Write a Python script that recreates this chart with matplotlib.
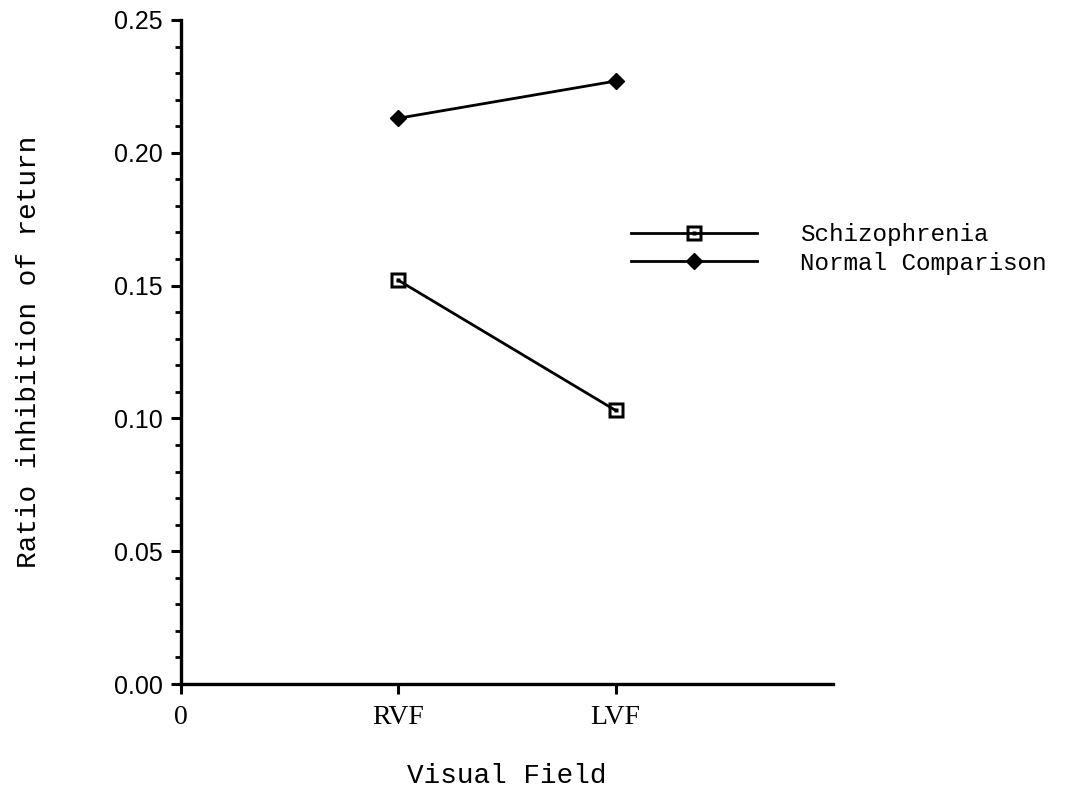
import matplotlib
matplotlib.use("Agg")
import matplotlib.pyplot as plt
from matplotlib.path import Path
from matplotlib.ticker import MultipleLocator, FormatStrFormatter

# data
x_pos = [1, 2]
fields = ["RVF", "LVF"]
schizophrenia = [0.152, 0.103]
normal = [0.213, 0.227]

x_ticks = [0, 1, 2]
x_ticklabels = ["0", "RVF", "LVF"]

mono = "Liberation Mono"


def square_box(outer, inner, dot):
    # filled square ring with a small dot in the middle
    def sq(r, ccw):
        pts = [(-r, -r), (r, -r), (r, r), (-r, r)]
        if not ccw:
            pts = pts[::-1]
        return pts + [pts[0]]
    verts = sq(outer, True) + sq(inner, False) + sq(dot, True)
    codes = ([Path.MOVETO] + [Path.LINETO] * 3 + [Path.CLOSEPOLY]) * 3
    return Path(verts, codes)


box_marker = square_box(1.0, 0.55, 0.2)

fig = plt.figure(figsize=(10.66, 7.96), dpi=100)
ax = fig.add_axes([0.1698, 0.1407, 0.6116, 0.8342])

ax.plot(x_pos, schizophrenia, color="black", lw=2, marker=box_marker, ms=12,
        mfc="black", mec="none", label="Schizophrenia")
ax.plot(x_pos, normal, color="black", lw=2, marker="D", ms=8.5,
        mfc="black", mec="black", label="Normal Comparison")

ax.set_xlim(0, 3)
ax.set_ylim(0, 0.25)
ax.yaxis.set_major_locator(MultipleLocator(0.05))
ax.yaxis.set_minor_locator(MultipleLocator(0.01))
ax.yaxis.set_major_formatter(FormatStrFormatter("%.2f"))
ax.set_xticks(x_ticks)
ax.set_xticklabels(x_ticklabels, family="Liberation Serif", fontsize=20)
for lab in ax.get_yticklabels():
    lab.set_family("Liberation Sans")
    lab.set_fontsize(18)

for side in ["top", "right"]:
    ax.spines[side].set_visible(False)
for side in ["left", "bottom"]:
    ax.spines[side].set_linewidth(2.4)

ax.tick_params(axis="y", which="major", direction="out", length=7, width=2.2, pad=6)
ax.tick_params(axis="y", which="minor", direction="out", length=4.5, width=2)
ax.tick_params(axis="x", which="major", direction="out", length=7, width=2.2, pad=8)

ax.set_xlabel("Visual Field", family=mono, fontsize=20, labelpad=24)
ax.set_ylabel("Ratio inhibition of return", family=mono, fontsize=20, labelpad=52)

leg = ax.legend(loc="center left", bbox_to_anchor=(0.69, 0.655), frameon=False,
                prop={"family": mono, "size": 17.5}, handlelength=5.2,
                handletextpad=1.75, labelspacing=0.22, numpoints=1,
                borderaxespad=0, borderpad=0)

fig.savefig("out.png", dpi=100)
